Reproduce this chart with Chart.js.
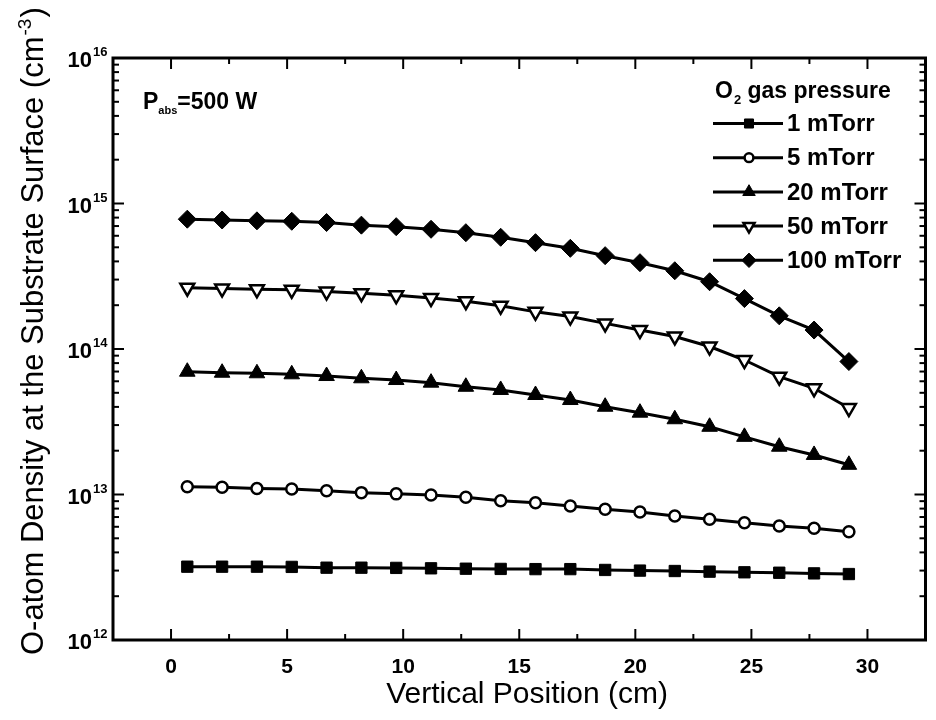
<!DOCTYPE html>
<html><head><meta charset="utf-8">
<script src="https://cdn.jsdelivr.net/npm/chart.js@4"></script>
<style>html,body{margin:0;padding:0;background:#fff}#wrap{width:936px;height:720px}</style>
</head><body><div id="wrap"><canvas id="c" width="936" height="720"></canvas></div>
<script>
// ---- data ----
const positions = [0.7, 2.2, 3.7, 5.2, 6.7, 8.2, 9.7, 11.2, 12.7, 14.2, 15.7, 17.2, 18.7, 20.2, 21.7, 23.2, 24.7, 26.2, 27.7, 29.2];
const seriesLabels = ['1 mTorr', '5 mTorr', '20 mTorr', '50 mTorr', '100 mTorr'];
const p1 = [3.19e12,3.19e12,3.19e12,3.18e12,3.14e12,3.14e12,3.13e12,3.11e12,3.09e12,3.08e12,3.07e12,3.07e12,3.03e12,3.00e12,2.98e12,2.95e12,2.92e12,2.90e12,2.87e12,2.84e12];
const p5 = [1.13e13,1.12e13,1.10e13,1.09e13,1.06e13,1.03e13,1.01e13,9.93e12,9.57e12,9.07e12,8.79e12,8.34e12,7.91e12,7.58e12,7.12e12,6.76e12,6.40e12,6.08e12,5.86e12,5.55e12];
const p20 = [6.98e13,6.87e13,6.81e13,6.70e13,6.52e13,6.29e13,6.12e13,5.87e13,5.50e13,5.23e13,4.83e13,4.46e13,4.01e13,3.65e13,3.29e13,2.92e13,2.49e13,2.13e13,1.87e13,1.60e13];
const p50 = [2.64e14,2.60e14,2.57e14,2.55e14,2.48e14,2.42e14,2.34e14,2.24e14,2.13e14,1.98e14,1.80e14,1.67e14,1.50e14,1.35e14,1.22e14,1.04e14,8.4e13,6.45e13,5.37e13,3.93e13];
const p100 = [7.8e14,7.7e14,7.6e14,7.55e14,7.4e14,7.1e14,6.93e14,6.65e14,6.3e14,5.86e14,5.38e14,4.92e14,4.38e14,3.92e14,3.45e14,2.9e14,2.22e14,1.69e14,1.35e14,8.2e13];
const xTicks = [0, 5, 10, 15, 20, 25, 30];
const xMinorTicks = [2.5, 7.5, 12.5, 17.5, 22.5, 27.5];
const yExponents = [12, 13, 14, 15, 16];

// ---- styles ----
const FONT = "'Liberation Sans', Arial, Helvetica, sans-serif";
const markerStyles = [
  {pointStyle:'rect', radius:8, fill:'#000', bw:1, rot:0},
  {pointStyle:'circle', radius:5.5, fill:'#fff', bw:2.5, rot:0},
  {pointStyle:'triangle', radius:9, fill:'#000', bw:1, rot:0},
  {pointStyle:'triangle', radius:8, fill:'#fff', bw:2.5, rot:180},
  {pointStyle:'rectRot', radius:9, fill:'#000', bw:1, rot:0}
];
const seriesValues = [p1, p5, p20, p50, p100];

const datasets = seriesValues.map((vals, i) => ({
  label: seriesLabels[i],
  data: positions.map((x, j) => ({x: x, y: vals[j]})),
  borderColor: '#000',
  borderWidth: 3,
  tension: 0,
  fill: false,
  pointStyle: markerStyles[i].pointStyle,
  pointRadius: markerStyles[i].radius,
  pointBackgroundColor: markerStyles[i].fill,
  pointBorderColor: '#000',
  pointBorderWidth: markerStyles[i].bw,
  pointRotation: markerStyles[i].rot
}));

function drawMarker(ctx, style, x, y, r, fill, bw, rot) {
  ctx.save();
  ctx.translate(x, y);
  ctx.rotate((rot || 0) * Math.PI / 180);
  ctx.beginPath();
  if (style === 'rect') {
    const s = r * Math.SQRT1_2;
    ctx.rect(-s, -s, 2 * s, 2 * s);
  } else if (style === 'circle') {
    ctx.arc(0, 0, r, 0, Math.PI * 2);
  } else if (style === 'triangle') {
    ctx.moveTo(0, -r);
    ctx.lineTo(r * Math.sin(Math.PI * 2 / 3), -r * Math.cos(Math.PI * 2 / 3));
    ctx.lineTo(-r * Math.sin(Math.PI * 2 / 3), -r * Math.cos(Math.PI * 2 / 3));
  } else if (style === 'rectRot') {
    ctx.moveTo(0, -r); ctx.lineTo(r, 0); ctx.lineTo(0, r); ctx.lineTo(-r, 0);
  }
  ctx.closePath();
  ctx.fillStyle = fill;
  ctx.fill();
  ctx.lineWidth = bw;
  ctx.strokeStyle = '#000';
  ctx.stroke();
  ctx.restore();
}

const decorPlugin = {
  id: 'decor',
  afterDatasetsDraw(chart) {
    const ctx = chart.ctx;
    const a = chart.chartArea;
    const xs = chart.scales.x, ys = chart.scales.y;
    ctx.save();
    ctx.strokeStyle = '#000';
    ctx.fillStyle = '#000';
    // ticks (inward, all four sides)
    ctx.lineWidth = 2;
    const tick = (x1, y1, x2, y2) => { ctx.beginPath(); ctx.moveTo(x1, y1); ctx.lineTo(x2, y2); ctx.stroke(); };
    xTicks.forEach(v => { const px = xs.getPixelForValue(v); tick(px, a.bottom, px, a.bottom - 11); tick(px, a.top, px, a.top + 11); });
    xMinorTicks.forEach(v => { const px = xs.getPixelForValue(v); tick(px, a.bottom, px, a.bottom - 6); tick(px, a.top, px, a.top + 6); });
    yExponents.forEach(e => {
      const py = ys.getPixelForValue(Math.pow(10, e));
      tick(a.left, py, a.left + 11, py); tick(a.right, py, a.right - 11, py);
      if (e < 16) {
        for (let m = 2; m <= 9; m++) {
          const pm = ys.getPixelForValue(m * Math.pow(10, e));
          tick(a.left, pm, a.left + 6, pm); tick(a.right, pm, a.right - 6, pm);
        }
      }
    });
    // frame
    ctx.lineWidth = 3;
    ctx.strokeRect(a.left, a.top, a.right - a.left, a.bottom - a.top);

    // y tick labels 10^n
    yExponents.forEach(e => {
      const py = ys.getPixelForValue(Math.pow(10, e));
      ctx.font = 'bold 22px ' + FONT;
      ctx.textAlign = 'right'; ctx.textBaseline = 'middle';
      ctx.fillText('10', 92, py + 3);
      ctx.font = 'bold 13px ' + FONT;
      ctx.textAlign = 'left'; ctx.textBaseline = 'alphabetic';
      ctx.fillText(String(e), 93, py - 2);
    });

    // x title
    ctx.font = '30px ' + FONT;
    ctx.textAlign = 'center'; ctx.textBaseline = 'alphabetic';
    ctx.fillText('Vertical Position (cm)', 527, 703);

    // y title (rotated)
    ctx.save();
    ctx.translate(43, 655);
    ctx.rotate(-Math.PI / 2);
    ctx.font = '31px ' + FONT;
    ctx.textAlign = 'left'; ctx.textBaseline = 'alphabetic';
    const t1 = 'O-atom Density at the Substrate Surface (cm';
    ctx.fillText(t1, 0, 0);
    let w = ctx.measureText(t1).width;
    ctx.font = '19px ' + FONT;
    const sup = '-3';
    ctx.fillText(sup, w + 1, -12);
    w += ctx.measureText(sup).width + 2;
    ctx.font = '31px ' + FONT;
    ctx.fillText(')', w, 0);
    ctx.restore();

    // P_abs annotation
    ctx.textAlign = 'left'; ctx.textBaseline = 'alphabetic';
    ctx.font = 'bold 23px ' + FONT;
    ctx.fillText('P', 143, 109);
    let px = 143 + ctx.measureText('P').width;
    ctx.font = 'bold 11px ' + FONT;
    ctx.fillText('abs', px, 114);
    px += ctx.measureText('abs').width;
    ctx.font = 'bold 23px ' + FONT;
    ctx.fillText('=500 W', px, 109);

    // legend title
    ctx.font = 'bold 23px ' + FONT;
    ctx.fillText('O', 715, 98);
    let lx = 715 + ctx.measureText('O').width;
    ctx.font = 'bold 13px ' + FONT;
    ctx.fillText('2', lx + 1, 104);
    lx += ctx.measureText('2').width + 1;
    ctx.font = 'bold 23px ' + FONT;
    ctx.fillText(' gas pressure', lx, 98);

    // legend entries
    seriesLabels.forEach((lab, i) => {
      const yy = 123.5 + 34.2 * i;
      ctx.lineWidth = 3;
      ctx.beginPath(); ctx.moveTo(713, yy); ctx.lineTo(783, yy); ctx.stroke();
      const ms = markerStyles[i];
      drawMarker(ctx, ms.pointStyle, 749, yy, ms.radius * 0.8, ms.fill, ms.bw, ms.rot);
      ctx.fillStyle = '#000';
      ctx.font = 'bold 24px ' + FONT;
      ctx.textAlign = 'left'; ctx.textBaseline = 'middle';
      ctx.fillText(lab, 787, yy + 1);
    });
    ctx.restore();
  }
};

const bgPlugin = {
  id: 'bg',
  beforeDraw(chart) {
    const ctx = chart.ctx;
    ctx.save(); ctx.fillStyle = '#fff'; ctx.fillRect(0, 0, chart.width, chart.height); ctx.restore();
  }
};

new Chart(document.getElementById('c').getContext('2d'), {
  type: 'line',
  data: { datasets: datasets },
  options: {
    responsive: false,
    animation: false,
    devicePixelRatio: 1,
    layout: { padding: { left: 0, right: 4, top: 58, bottom: 0 } },
    plugins: { legend: { display: false }, tooltip: { enabled: false }, title: { display: false } },
    scales: {
      x: {
        type: 'linear', min: -2.5, max: 32.5,
        afterBuildTicks: s => { s.ticks = xTicks.map(v => ({ value: v })); },
        afterFit: s => { s.height = 80; },
        grid: { display: false, drawTicks: false },
        border: { display: false },
        ticks: { color: '#000', font: { family: FONT, size: 21, weight: 'bold' }, padding: 15, maxRotation: 0, autoSkip: false }
      },
      y: {
        type: 'logarithmic', min: 1e12, max: 1e16,
        afterFit: s => { s.width = 113; },
        grid: { display: false, drawTicks: false },
        border: { display: false },
        ticks: { display: false }
      }
    }
  },
  plugins: [bgPlugin, decorPlugin]
});
</script>
</body></html>
